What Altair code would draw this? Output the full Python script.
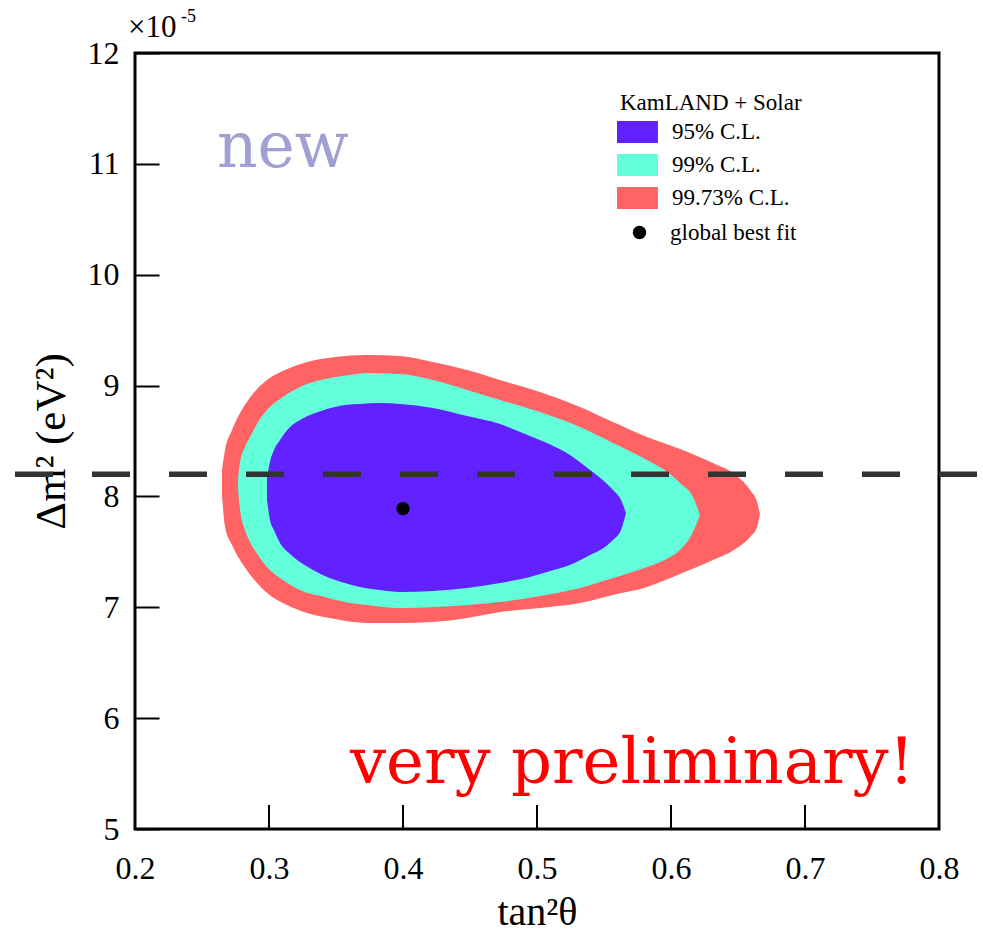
import altair as alt
import pandas as pd

# ---- data (tan^2 theta, Delta m^2 in units of 1e-5 eV^2) ----
red_x = [0.2649, 0.2672, 0.2724, 0.2784, 0.2873, 0.2985, 0.3119, 0.3284, 0.3493, 0.3731, 0.3978, 0.4224,
         0.4478, 0.4724, 0.5022, 0.5321, 0.5567, 0.5821, 0.6067, 0.6313, 0.6493, 0.6590, 0.6642, 0.6664]
red_lo = [8.013, 7.724, 7.562, 7.426, 7.273, 7.129, 7.030, 6.948, 6.894, 6.858, 6.858, 6.867,
          6.903, 6.957, 6.994, 7.039, 7.111, 7.183, 7.300, 7.426, 7.535, 7.634, 7.724, 7.841]
red_hi = [8.238, 8.419, 8.599, 8.752, 8.915, 9.050, 9.140, 9.213, 9.258, 9.276, 9.267, 9.213,
          9.140, 9.050, 8.942, 8.807, 8.671, 8.536, 8.428, 8.301, 8.184, 8.058, 7.950, 7.841]

cyan_x = [0.2769, 0.2784, 0.2821, 0.2858, 0.2918, 0.2985, 0.3104, 0.3231, 0.3418, 0.3604, 0.3731, 0.3978,
          0.4224, 0.4478, 0.4724, 0.5022, 0.5321, 0.5567, 0.5821, 0.5993, 0.6067, 0.6164, 0.6216]
cyan_lo = [8.058, 7.878, 7.697, 7.589, 7.472, 7.363, 7.246, 7.156, 7.093, 7.039, 7.021, 6.994,
           7.003, 7.021, 7.048, 7.102, 7.174, 7.264, 7.363, 7.454, 7.517, 7.679, 7.832]
cyan_hi = [8.166, 8.311, 8.446, 8.536, 8.671, 8.780, 8.897, 8.987, 9.059, 9.095, 9.113, 9.104,
           9.050, 8.960, 8.870, 8.761, 8.626, 8.482, 8.329, 8.202, 8.121, 7.995, 7.832]

blue_x = [0.2985, 0.3007, 0.3037, 0.3082, 0.3157, 0.3231, 0.3343, 0.3433, 0.3567, 0.3679, 0.3828, 0.3978,
          0.4224, 0.4478, 0.4724, 0.4948, 0.5075, 0.5246, 0.5396, 0.5507, 0.5567, 0.5627, 0.5664]
blue_lo = [7.968, 7.787, 7.697, 7.580, 7.481, 7.408, 7.327, 7.273, 7.219, 7.183, 7.156, 7.138,
           7.147, 7.174, 7.219, 7.273, 7.318, 7.381, 7.472, 7.544, 7.607, 7.697, 7.850]
blue_hi = [8.166, 8.311, 8.419, 8.509, 8.626, 8.689, 8.752, 8.789, 8.825, 8.834, 8.843, 8.834,
           8.798, 8.725, 8.653, 8.545, 8.482, 8.374, 8.238, 8.130, 8.058, 7.968, 7.850]

best_fit_x = [0.40]
best_fit_y = [7.89]
best_fit_label = ["global best fit"]

dashed_y = [8.2]

levels = ["95% C.L.", "99% C.L.", "99.73% C.L."]
level_colors = ["#6222ff", "#63ffdb", "#ff6363"]

x_labels = [0.2, 0.3, 0.4, 0.5, 0.6, 0.7, 0.8]
y_labels = [5, 6, 7, 8, 9, 10, 11, 12]
x_inner_ticks = [0.3, 0.4, 0.5, 0.6, 0.7]

# ---- scales / axes / legends ----
W, H = 804, 776
SERIF = "Liberation Serif"
TICK_LEN = 24

xscale = alt.Scale(domain=[0.2, 0.8], nice=False, zero=False)
yscale = alt.Scale(domain=[5, 12], nice=False, zero=False)
cscale = alt.Scale(domain=levels, range=level_colors)

xaxis = alt.Axis(values=x_labels, format=".1f", title="tan²θ", ticks=False, domain=False, grid=False,
                 labelFont=SERIF, labelFontSize=32, labelColor="black", labelPadding=24,
                 titleFont=SERIF, titleFontSize=40, titleFontWeight="normal", titleColor="black",
                 titlePadding=8, labelFlush=False)
# y axis moved TICK_LEN px inside the frame so its (outward) ticks point into the plot
yaxis = alt.Axis(values=y_labels, format="d", title="Δm² (eV²)", ticks=True, tickSize=TICK_LEN,
                 tickWidth=2, tickColor="black", offset=-TICK_LEN, domain=False, grid=False,
                 labelFont=SERIF, labelFontSize=32, labelColor="black", labelPadding=16,
                 titleFont=SERIF, titleFontSize=43, titleFontWeight="normal", titleColor="black",
                 titlePadding=14, labelFlush=False)

clegend = alt.Legend(orient="none", legendX=485, legendY=39, title="KamLAND + Solar",
                     titleFont=SERIF, titleFontSize=23, titleFontWeight="normal", titleColor="black",
                     titlePadding=4, titleLimit=500, labelFont=SERIF, labelFontSize=23, labelColor="black",
                     labelOffset=26, labelLimit=500, symbolType="M-1.23,-0.846H1.92V0.846H-1.23Z",
                     symbolSize=676, symbolStrokeWidth=0, symbolOpacity=1, rowPadding=8, padding=0)

slegend = alt.Legend(orient="none", legendX=493, legendY=168, title=None,
                     labelFont=SERIF, labelFontSize=23, labelColor="black", labelOffset=19, labelLimit=500,
                     symbolSize=180, symbolStrokeWidth=0, symbolFillColor="black", symbolOpacity=1,
                     padding=0)

X = lambda f: alt.X(f, scale=xscale, axis=xaxis)
Y = lambda f: alt.Y(f, scale=yscale, axis=yaxis)


def contour(xs, lo, hi, level):
    df = pd.DataFrame({"tan2": xs, "lo": lo, "hi": hi, "level": level})
    return alt.Chart(df).mark_area(interpolate="monotone", opacity=1, strokeWidth=0).encode(
        x=X("tan2:Q"), y=Y("lo:Q"), y2="hi:Q",
        color=alt.Color("level:N", scale=cscale, legend=clegend))


red = contour(red_x, red_lo, red_hi, levels[2])
cyan = contour(cyan_x, cyan_lo, cyan_hi, levels[1])
blue = contour(blue_x, blue_lo, blue_hi, levels[0])

best = alt.Chart(pd.DataFrame({"tan2": best_fit_x, "dm2": best_fit_y, "label": best_fit_label})).mark_point(
    filled=True, size=180, color="black", opacity=1, strokeWidth=0).encode(
    x=X("tan2:Q"), y=Y("dm2:Q"),
    shape=alt.Shape("label:N", scale=alt.Scale(domain=best_fit_label, range=["circle"]), legend=slegend))

dashed = alt.Chart(pd.DataFrame({"dm2": dashed_y})).mark_rule(
    color="#333333", strokeWidth=5.5, strokeDash=[38, 39]).encode(
    y=Y("dm2:Q"), x=alt.value(-120), x2=alt.value(848))

# inward ticks along the bottom: tick values through the x scale, length as pixel offsets
xticks = alt.Chart(pd.DataFrame({"tx": x_inner_ticks})).mark_rule(color="#000000", strokeWidth=2).encode(
    x=X("tx:Q"), y=alt.value(H), y2=alt.value(H - TICK_LEN))


def note(text, x, y, font, size, color):
    df = pd.DataFrame({"tan2": [x], "dm2": [y], "t": [text]})
    return alt.Chart(df).mark_text(align="left", baseline="alphabetic", font=font, fontSize=size,
                                   color=color).encode(x=X("tan2:Q"), y=Y("dm2:Q"), text="t:N")


new_txt = note("new", 0.2612, 10.97, "DejaVu Serif", 63, "#a0a0d2")
prelim_txt = note("very preliminary!", 0.3604, 5.415, "DejaVu Serif", 64, "#ff0000")
exp_txt = note("×10", 0.1948, 12.14, SERIF, 31, "black")
exp_sup = note("-5", 0.2343, 12.28, SERIF, 18, "black")

chart = alt.layer(red, cyan, blue, best, xticks, dashed,
                  new_txt, prelim_txt, exp_txt, exp_sup).properties(
    width=W, height=H,
    autosize=alt.AutoSizeParams(type="none"),
    padding={"left": 135, "top": 53, "right": 44, "bottom": 106},
    background="white",
).configure_view(stroke="black", strokeWidth=3)

chart.save("out.html", embed_options={"renderer": "svg", "actions": False})
